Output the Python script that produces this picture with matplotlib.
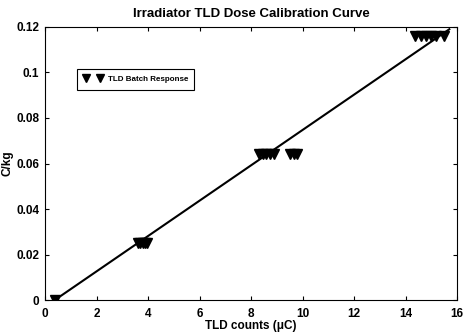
import matplotlib
matplotlib.use("Agg")
import matplotlib.pyplot as plt

plt.rcParams['font.family'] = ['Liberation Sans', 'DejaVu Sans']

counts = [0.38, 3.6, 3.7, 3.8, 3.9, 3.95,
          8.3, 8.45, 8.6, 8.75, 8.9, 9.5, 9.65, 9.8,
          14.35, 14.6, 14.8, 15.0, 15.2, 15.5]
dose = [0.0, 0.025, 0.025, 0.025, 0.025, 0.025,
        0.064, 0.064, 0.064, 0.064, 0.064, 0.064, 0.064, 0.064,
        0.116, 0.116, 0.116, 0.116, 0.116, 0.116]
fit_x = [0.38, 15.7]
fit_y = [0.0, 0.119]
xticks = [0, 2, 4, 6, 8, 10, 12, 14, 16]
yticks = [0, 0.02, 0.04, 0.06, 0.08, 0.1, 0.12]
ytick_labels = ['0', '0.02', '0.04', '0.06', '0.08', '0.1', '0.12']

fig = plt.figure(figsize=(4.64, 3.33), dpi=100)
ax = fig.add_axes([0.097, 0.099, 0.888, 0.82])
ax.plot(counts, dose, linestyle='none', marker='v', markersize=6.5,
        color='black', label='TLD Batch Response')
ax.plot(fit_x, fit_y, color='black', linewidth=1.5)
ax.set_xlim(0, 16)
ax.set_ylim(0, 0.12)
ax.set_xticks(xticks)
ax.set_yticks(yticks)
ax.set_yticklabels(ytick_labels)
ax.tick_params(direction='in', top=True, right=True, length=3, labelsize=8.5,
               colors='black', width=0.8)
ax.tick_params(axis='x', pad=6)
ax.tick_params(axis='y', pad=4)
for lbl in ax.get_xticklabels() + ax.get_yticklabels():
    lbl.set_fontweight('bold')
ax.set_xlabel('TLD counts (μC)', fontsize=8.5, fontweight='bold', labelpad=0)
ax.set_ylabel('C/kg', fontsize=8.5, fontweight='bold', labelpad=2)
ax.set_title('Irradiator TLD Dose Calibration Curve', fontsize=9.5,
             fontweight='bold', pad=7)
leg = ax.legend(loc='upper left', bbox_to_anchor=(0.068, 0.86), numpoints=2,
                fancybox=False, edgecolor='black', framealpha=1,
                prop={'size': 5.8, 'weight': 'bold'}, handlelength=2.4,
                handletextpad=0.6, borderpad=0.8, markerscale=0.8)
leg.get_frame().set_linewidth(0.8)
for s in ax.spines.values():
    s.set_linewidth(0.8)
fig.savefig('out.png', dpi=100)
